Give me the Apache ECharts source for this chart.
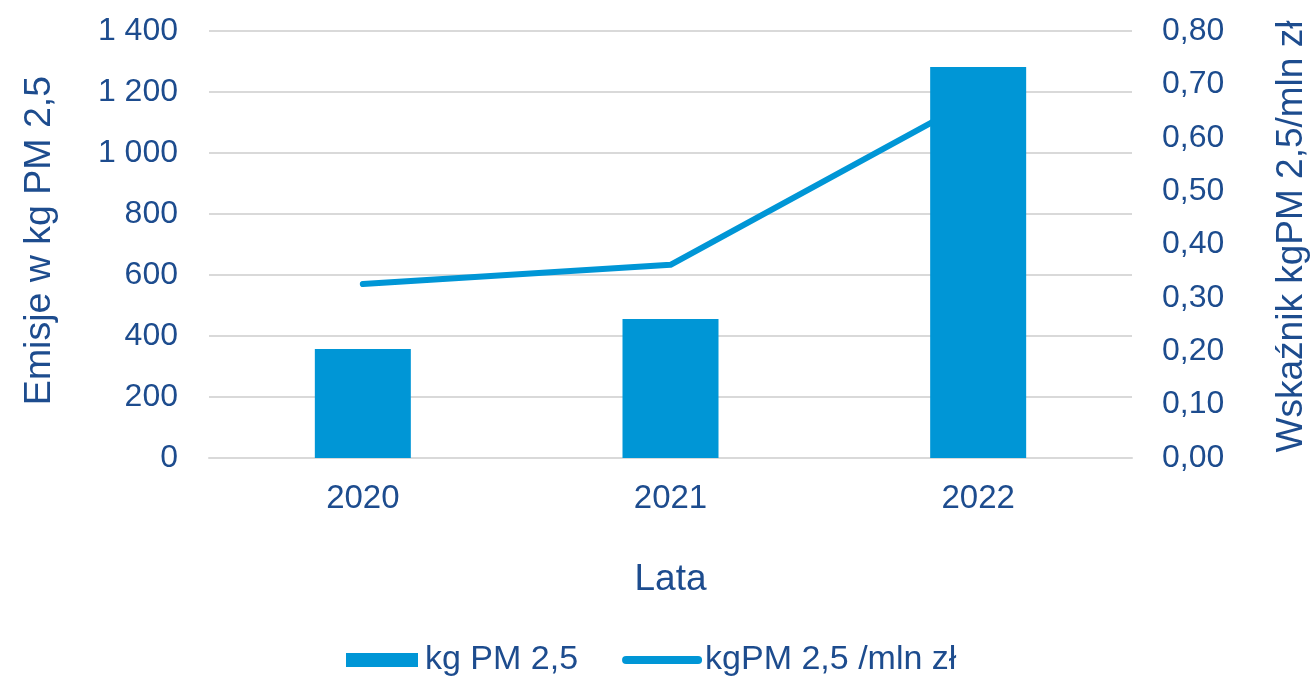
<!DOCTYPE html>
<html>
<head>
<meta charset="utf-8">
<script src="https://cdn.jsdelivr.net/npm/echarts@6/dist/echarts.min.js"></script>
<style>
  html, body { margin: 0; padding: 0; background: #ffffff; }
  #chart { width: 1310px; height: 676px; }
</style>
</head>
<body>
<div id="chart"></div>
<script>
// Lata i wartości emisji PM 2,5
const years = ['2020', '2021', '2022'];
const emissionsKg = [357, 456, 1282];          // kg PM 2,5
const indicatorPerMln = [0.326, 0.362, 0.676]; // kg PM 2,5 / mln zł

const leftTicks = { min: 0, max: 1400, interval: 200 };
const rightTicks = { min: 0, max: 0.8, interval: 0.1 };

const TEXT = '#1d4c8e';
const BLUE = '#0096d6';
const GRID = '#d9d9d9';
const FONT = '"Liberation Sans", Arial, sans-serif';

// legend icons: a flat bar swatch and a thick rounded stroke
const BAR_ICON = 'path://M0,0 L72,0 L72,14 L0,14 Z';
const LINE_ICON = 'path://M4,0 L76,0 A4,4 0 0 1 76,8 L4,8 A4,4 0 0 1 4,0 Z';

function spaceThousands(v) {
  return String(v).replace(/\B(?=(\d{3})+(?!\d))/g, ' ');
}

const chart = echarts.init(document.getElementById('chart'), null, { renderer: 'canvas' });

chart.setOption({
  animation: false,
  textStyle: { fontFamily: FONT, color: TEXT },
  grid: {
    left: 209, right: 178, top: 31, bottom: 218,
    containLabel: false,
    outerBoundsMode: 'none'
  },
  legend: {
    top: 638,
    left: 341,
    itemWidth: 80,
    itemHeight: 14,
    itemGap: 44,
    symbolKeepAspect: true,
    textStyle: { fontFamily: FONT, fontSize: 34, color: TEXT, padding: [0, 0, 0, -2] },
    data: [
      { name: 'kg PM 2,5', icon: BAR_ICON },
      { name: 'kgPM 2,5 /mln zł', icon: LINE_ICON }
    ]
  },
  xAxis: {
    type: 'category',
    data: years,
    name: 'Lata',
    nameLocation: 'middle',
    nameGap: 103,
    nameTextStyle: { fontFamily: FONT, fontSize: 37, color: TEXT },
    axisLine: { show: true, lineStyle: { color: GRID, width: 2 } },
    axisTick: { show: false },
    axisLabel: { fontFamily: FONT, fontSize: 33, color: TEXT, margin: 24 }
  },
  yAxis: [
    {
      type: 'value',
      position: 'left',
      min: leftTicks.min,
      max: leftTicks.max,
      interval: leftTicks.interval,
      name: 'Emisje w kg PM 2,5',
      nameLocation: 'middle',
      nameGap: 150,
      nameTextStyle: { fontFamily: FONT, fontSize: 37.5, color: TEXT, padding: [0, 0, 0, 8] },
      axisLine: { show: false },
      axisTick: { show: false },
      splitLine: { lineStyle: { color: GRID, width: 2 } },
      axisLabel: {
        fontFamily: FONT, fontSize: 32, color: TEXT, margin: 31,
        formatter: v => spaceThousands(v)
      }
    },
    {
      type: 'value',
      position: 'right',
      min: rightTicks.min,
      max: rightTicks.max,
      interval: rightTicks.interval,
      name: 'Wskaźnik kgPM 2,5/mln zł',
      nameLocation: 'middle',
      nameGap: 141,
      nameTextStyle: { fontFamily: FONT, fontSize: 37, color: TEXT, padding: [0, 0, 0, 16] },
      axisLine: { show: false },
      axisTick: { show: false },
      splitLine: { show: false },
      axisLabel: {
        fontFamily: FONT, fontSize: 32, color: TEXT, margin: 30,
        formatter: v => v.toFixed(2).replace('.', ',')
      }
    }
  ],
  series: [
    {
      name: 'kg PM 2,5',
      type: 'bar',
      yAxisIndex: 0,
      data: emissionsKg,
      barWidth: 96,
      z: 3,
      itemStyle: { color: BLUE }
    },
    {
      name: 'kgPM 2,5 /mln zł',
      type: 'line',
      yAxisIndex: 1,
      data: indicatorPerMln,
      symbol: 'none',
      z: 2,
      lineStyle: { color: BLUE, width: 6, cap: 'round', join: 'round' },
      itemStyle: { color: BLUE }
    }
  ]
});
</script>
</body>
</html>
